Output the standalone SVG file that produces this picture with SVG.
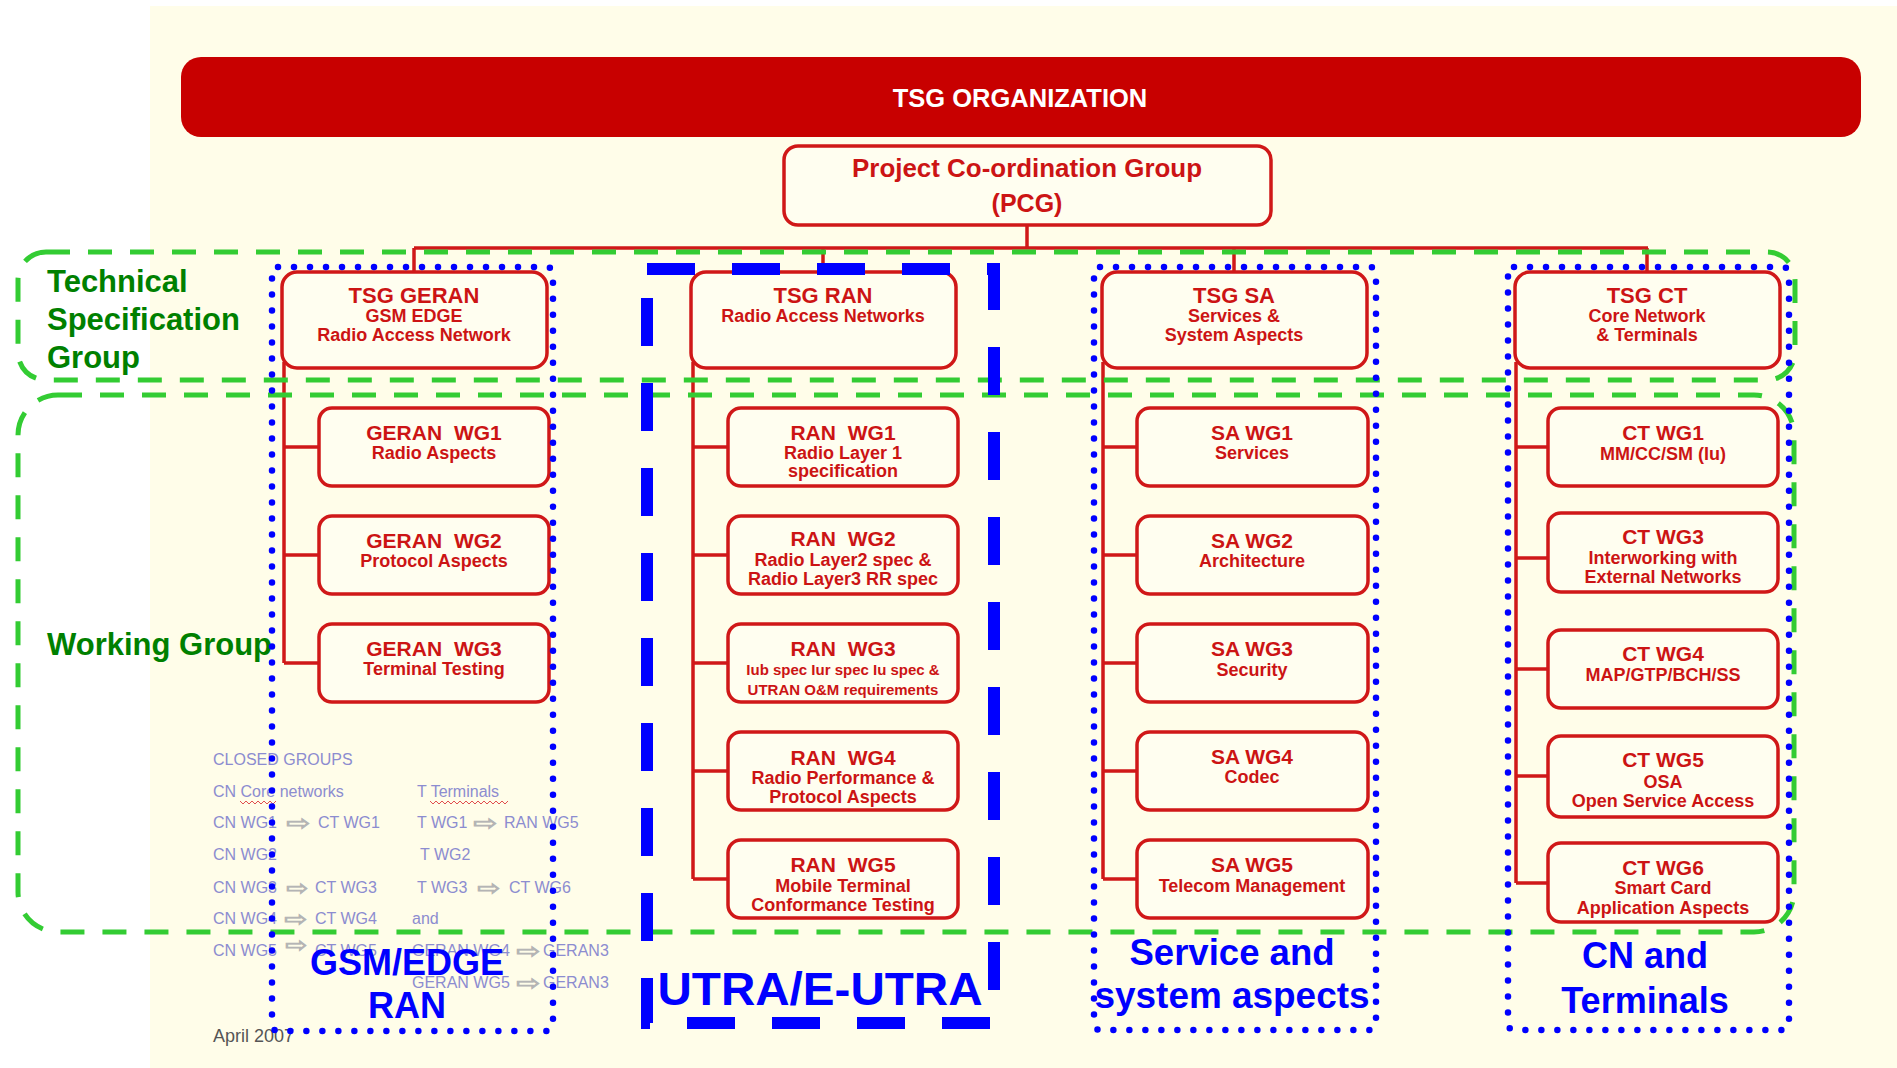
<svg xmlns="http://www.w3.org/2000/svg" width="1897" height="1068" viewBox="0 0 1897 1068">
<style>
text{font-family:"Liberation Sans",Arial,sans-serif}
.box{fill:#FFFEF0;stroke:#D01818;stroke-width:3.5}
.ln{stroke:#D01818;stroke-width:3.5;fill:none}
.t{fill:#CC1414;font-weight:bold;text-anchor:middle}
.h1{font-size:22px}
.h2{font-size:21px}
.ws{word-spacing:6px}
.s{font-size:18px}
.xs{font-size:15px}
.green{fill:none;stroke:#33CC33;stroke-width:5;stroke-dasharray:24 18}
.gl{fill:#008000;font-weight:bold;font-size:31px}
.dot{fill:none;stroke:#0000FF;stroke-width:6.5;stroke-linecap:round;stroke-dasharray:0 16}
.bl{fill:#0000FF;font-weight:bold;text-anchor:middle}
.note{fill:#8C8CD0;font-size:16px}
.arr{fill:#B4B4B4;stroke:#B4B4B4;stroke-width:0.8;font-family:"DejaVu Sans",sans-serif;font-size:20px}
</style>
<rect x="0" y="0" width="1897" height="1068" fill="#FFFFFF"/>
<rect x="150" y="6" width="1747" height="1062" fill="#FFFDE9"/>

<g id="notes">
<text class="note" x="213" y="765">CLOSED GROUPS</text>
<text class="note" x="213" y="797">CN Core networks</text>
<text class="note" x="417" y="797">T Terminals</text>
<path d="M240 801 l3 3 l3 -3 l3 3 l3 -3 l3 3 l3 -3 l3 3 l3 -3 l3 3 l3 -3 l3 3 l3 -3" fill="none" stroke="#E05050" stroke-width="1"/>
<path d="M430 801 l3 3 l3 -3 l3 3 l3 -3 l3 3 l3 -3 l3 3 l3 -3 l3 3 l3 -3 l3 3 l3 -3 l3 3 l3 -3 l3 3 l3 -3 l3 3 l3 -3 l3 3 l3 -3 l3 3 l3 -3 l3 3 l3 -3 l3 3 l3 -3" fill="none" stroke="#E05050" stroke-width="1"/>
<text class="note" x="213" y="828">CN WG1</text><text class="arr" x="286" y="830" textLength="24" lengthAdjust="spacingAndGlyphs">⇨</text><text class="note" x="318" y="828">CT WG1</text>
<text class="note" x="417" y="828">T WG1</text><text class="arr" x="473" y="830" textLength="24" lengthAdjust="spacingAndGlyphs">⇨</text><text class="note" x="504" y="828">RAN WG5</text>
<text class="note" x="213" y="860">CN WG2</text>
<text class="note" x="420" y="860">T WG2</text>
<text class="note" x="213" y="893">CN WG3</text><text class="arr" x="286" y="895" textLength="22" lengthAdjust="spacingAndGlyphs">⇨</text><text class="note" x="315" y="893">CT WG3</text>
<text class="note" x="417" y="893">T WG3</text><text class="arr" x="477" y="895" textLength="23" lengthAdjust="spacingAndGlyphs">⇨</text><text class="note" x="509" y="893">CT WG6</text>
<text class="note" x="213" y="924">CN WG4</text><text class="arr" x="284" y="926" textLength="23" lengthAdjust="spacingAndGlyphs">⇨</text><text class="note" x="315" y="924">CT WG4</text>
<text class="note" x="412" y="924">and</text>
<text class="note" x="213" y="956">CN WG5</text><text class="arr" x="285" y="952" textLength="22" lengthAdjust="spacingAndGlyphs">⇨</text><text class="note" x="315" y="956">CT WG5</text>
<text class="note" x="412" y="956">GERAN WG4</text><text class="arr" x="516" y="958" textLength="24" lengthAdjust="spacingAndGlyphs">⇨</text><text class="note" x="543" y="956">GERAN3</text>
<text class="note" x="412" y="988">GERAN WG5</text><text class="arr" x="516" y="990" textLength="24" lengthAdjust="spacingAndGlyphs">⇨</text><text class="note" x="543" y="988">GERAN3</text>
<text x="213" y="1042" font-size="18" fill="#555555">April 2007</text>
</g>

<g id="connectors">
<path class="ln" d="M1027 225 V248 M414 248 H1648 M414 248 V272 M823 248 V272 M1234 248 V272 M1647 248 V272"/>
<path class="ln" d="M284 362 V663 M284 447 H319 M284 555 H319 M284 663 H319"/>
<path class="ln" d="M693 362 V879 M693 447 H728 M693 555 H728 M693 663 H728 M693 771 H728 M693 879 H728"/>
<path class="ln" d="M1103 362 V879 M1103 447 H1137 M1103 555 H1137 M1103 663 H1137 M1103 771 H1137 M1103 879 H1137"/>
<path class="ln" d="M1516 362 V883 M1516 447 H1548 M1516 558 H1548 M1516 669 H1548 M1516 776 H1548 M1516 883 H1548"/>
</g>

<g id="tsg-organization">
<rect x="181" y="57" width="1680" height="80" rx="20" fill="#C80000"/>
<text x="1020" y="107" font-size="25.5" font-weight="bold" fill="#FFFFFF" text-anchor="middle">TSG ORGANIZATION</text>
</g>

<g id="pcg">
<rect class="box" x="784" y="146" width="487" height="79" rx="14"/>
<text class="t" x="1027" y="177" font-size="25" textLength="350" lengthAdjust="spacingAndGlyphs">Project Co-ordination Group</text>
<text class="t" x="1027" y="212" font-size="25">(PCG)</text>
</g>

<g id="tsg-geran">
<rect class="box" x="282" y="272" width="265" height="96" rx="15"/>
<text class="t h1" x="414" y="303">TSG GERAN</text>
<text class="t s" x="414" y="322">GSM EDGE</text>
<text class="t s" x="414" y="341">Radio Access Network</text>
</g>
<g id="tsg-ran">
<rect class="box" x="691" y="272" width="265" height="96" rx="15"/>
<text class="t h1" x="823" y="303">TSG RAN</text>
<text class="t s" x="823" y="322">Radio Access Networks</text>
</g>
<g id="tsg-sa">
<rect class="box" x="1102" y="272" width="265" height="96" rx="15"/>
<text class="t h1" x="1234" y="303">TSG SA</text>
<text class="t s" x="1234" y="322">Services &amp;</text>
<text class="t s" x="1234" y="341">System Aspects</text>
</g>
<g id="tsg-ct">
<rect class="box" x="1515" y="272" width="265" height="96" rx="15"/>
<text class="t h1" x="1647" y="303">TSG CT</text>
<text class="t s" x="1647" y="322">Core Network</text>
<text class="t s" x="1647" y="341">&amp; Terminals</text>
</g>

<g id="geran-wg1"><rect class="box" x="319" y="408" width="230" height="78" rx="13"/>
<text class="t h2 ws" x="434" y="440">GERAN WG1</text><text class="t s" x="434" y="459">Radio Aspects</text></g>
<g id="geran-wg2"><rect class="box" x="319" y="516" width="230" height="78" rx="13"/>
<text class="t h2 ws" x="434" y="548">GERAN WG2</text><text class="t s" x="434" y="567">Protocol Aspects</text></g>
<g id="geran-wg3"><rect class="box" x="319" y="624" width="230" height="78" rx="13"/>
<text class="t h2 ws" x="434" y="656">GERAN WG3</text><text class="t s" x="434" y="675">Terminal Testing</text></g>

<g id="ran-wg1"><rect class="box" x="728" y="408" width="230" height="78" rx="13"/>
<text class="t h2 ws" x="843" y="440">RAN WG1</text><text class="t s" x="843" y="459">Radio Layer 1</text><text class="t s" x="843" y="477">specification</text></g>
<g id="ran-wg2"><rect class="box" x="728" y="516" width="230" height="78" rx="13"/>
<text class="t h2 ws" x="843" y="546">RAN WG2</text><text class="t s" x="843" y="566">Radio Layer2 spec &amp;</text><text class="t s" x="843" y="585">Radio Layer3 RR spec</text></g>
<g id="ran-wg3"><rect class="box" x="728" y="624" width="230" height="78" rx="13"/>
<text class="t h2 ws" x="843" y="656">RAN WG3</text><text class="t xs" x="843" y="675">Iub spec Iur spec Iu spec &amp;</text><text class="t xs" x="843" y="695">UTRAN O&amp;M requirements</text></g>
<g id="ran-wg4"><rect class="box" x="728" y="732" width="230" height="78" rx="13"/>
<text class="t h2 ws" x="843" y="765">RAN WG4</text><text class="t s" x="843" y="784">Radio Performance &amp;</text><text class="t s" x="843" y="803">Protocol Aspects</text></g>
<g id="ran-wg5"><rect class="box" x="728" y="840" width="230" height="78" rx="13"/>
<text class="t h2 ws" x="843" y="872">RAN WG5</text><text class="t s" x="843" y="892">Mobile Terminal</text><text class="t s" x="843" y="911">Conformance Testing</text></g>

<g id="sa-wg1"><rect class="box" x="1137" y="408" width="231" height="78" rx="13"/>
<text class="t h2" x="1252" y="440">SA WG1</text><text class="t s" x="1252" y="459">Services</text></g>
<g id="sa-wg2"><rect class="box" x="1137" y="516" width="231" height="78" rx="13"/>
<text class="t h2" x="1252" y="548">SA WG2</text><text class="t s" x="1252" y="567">Architecture</text></g>
<g id="sa-wg3"><rect class="box" x="1137" y="624" width="231" height="78" rx="13"/>
<text class="t h2" x="1252" y="656">SA WG3</text><text class="t s" x="1252" y="676">Security</text></g>
<g id="sa-wg4"><rect class="box" x="1137" y="732" width="231" height="78" rx="13"/>
<text class="t h2" x="1252" y="764">SA WG4</text><text class="t s" x="1252" y="783">Codec</text></g>
<g id="sa-wg5"><rect class="box" x="1137" y="840" width="231" height="78" rx="13"/>
<text class="t h2" x="1252" y="872">SA WG5</text><text class="t s" x="1252" y="892">Telecom Management</text></g>

<g id="ct-wg1"><rect class="box" x="1548" y="408" width="230" height="78" rx="13"/>
<text class="t h2" x="1663" y="440">CT WG1</text><text class="t s" x="1663" y="460">MM/CC/SM (Iu)</text></g>
<g id="ct-wg3"><rect class="box" x="1548" y="513" width="230" height="79" rx="13"/>
<text class="t h2" x="1663" y="544">CT WG3</text><text class="t s" x="1663" y="564">Interworking with</text><text class="t s" x="1663" y="583">External Networks</text></g>
<g id="ct-wg4"><rect class="box" x="1548" y="630" width="230" height="78" rx="13"/>
<text class="t h2" x="1663" y="661">CT WG4</text><text class="t s" x="1663" y="681">MAP/GTP/BCH/SS</text></g>
<g id="ct-wg5"><rect class="box" x="1548" y="736" width="230" height="81" rx="13"/>
<text class="t h2" x="1663" y="767">CT WG5</text><text class="t s" x="1663" y="788">OSA</text><text class="t s" x="1663" y="807">Open Service Access</text></g>
<g id="ct-wg6"><rect class="box" x="1548" y="843" width="230" height="79" rx="13"/>
<text class="t h2" x="1663" y="875">CT WG6</text><text class="t s" x="1663" y="894">Smart Card</text><text class="t s" x="1663" y="914">Application Aspects</text></g>

<g id="technical-specification-group">
<rect class="green" x="18" y="252" width="1777" height="128" rx="28"/>
<text class="gl" x="47" y="292">Technical</text>
<text class="gl" x="47" y="330">Specification</text>
<text class="gl" x="47" y="368">Group</text>
</g>
<g id="working-group">
<rect class="green" x="18" y="395" width="1776" height="537" rx="40"/>
<text class="gl" x="47" y="655">Working Group</text>
</g>

<g id="gsm-edge-ran">
<rect class="dot" x="272" y="267" width="281" height="764" rx="6"/>
<text class="bl" x="407" y="975" font-size="36">GSM/EDGE</text>
<text class="bl" x="407" y="1018" font-size="36">RAN</text>
</g>
<g id="utra-e-utra">
<rect x="647" y="269" width="347" height="754" fill="none" stroke="#0000FF" stroke-width="12" stroke-dasharray="48 37"/>
<text class="bl" x="820" y="1005" font-size="46" textLength="325" lengthAdjust="spacingAndGlyphs">UTRA/E-UTRA</text>
</g>
<g id="service-system-aspects">
<rect class="dot" x="1094" y="267" width="282" height="763" rx="6"/>
<text class="bl" x="1232" y="965" font-size="36" textLength="205" lengthAdjust="spacingAndGlyphs">Service and</text>
<text class="bl" x="1232" y="1008" font-size="36" textLength="275" lengthAdjust="spacingAndGlyphs">system aspects</text>
</g>
<g id="cn-terminals">
<rect class="dot" x="1508" y="267" width="281" height="763" rx="6"/>
<text class="bl" x="1645" y="968" font-size="36">CN and</text>
<text class="bl" x="1645" y="1013" font-size="36">Terminals</text>
</g>
</svg>
